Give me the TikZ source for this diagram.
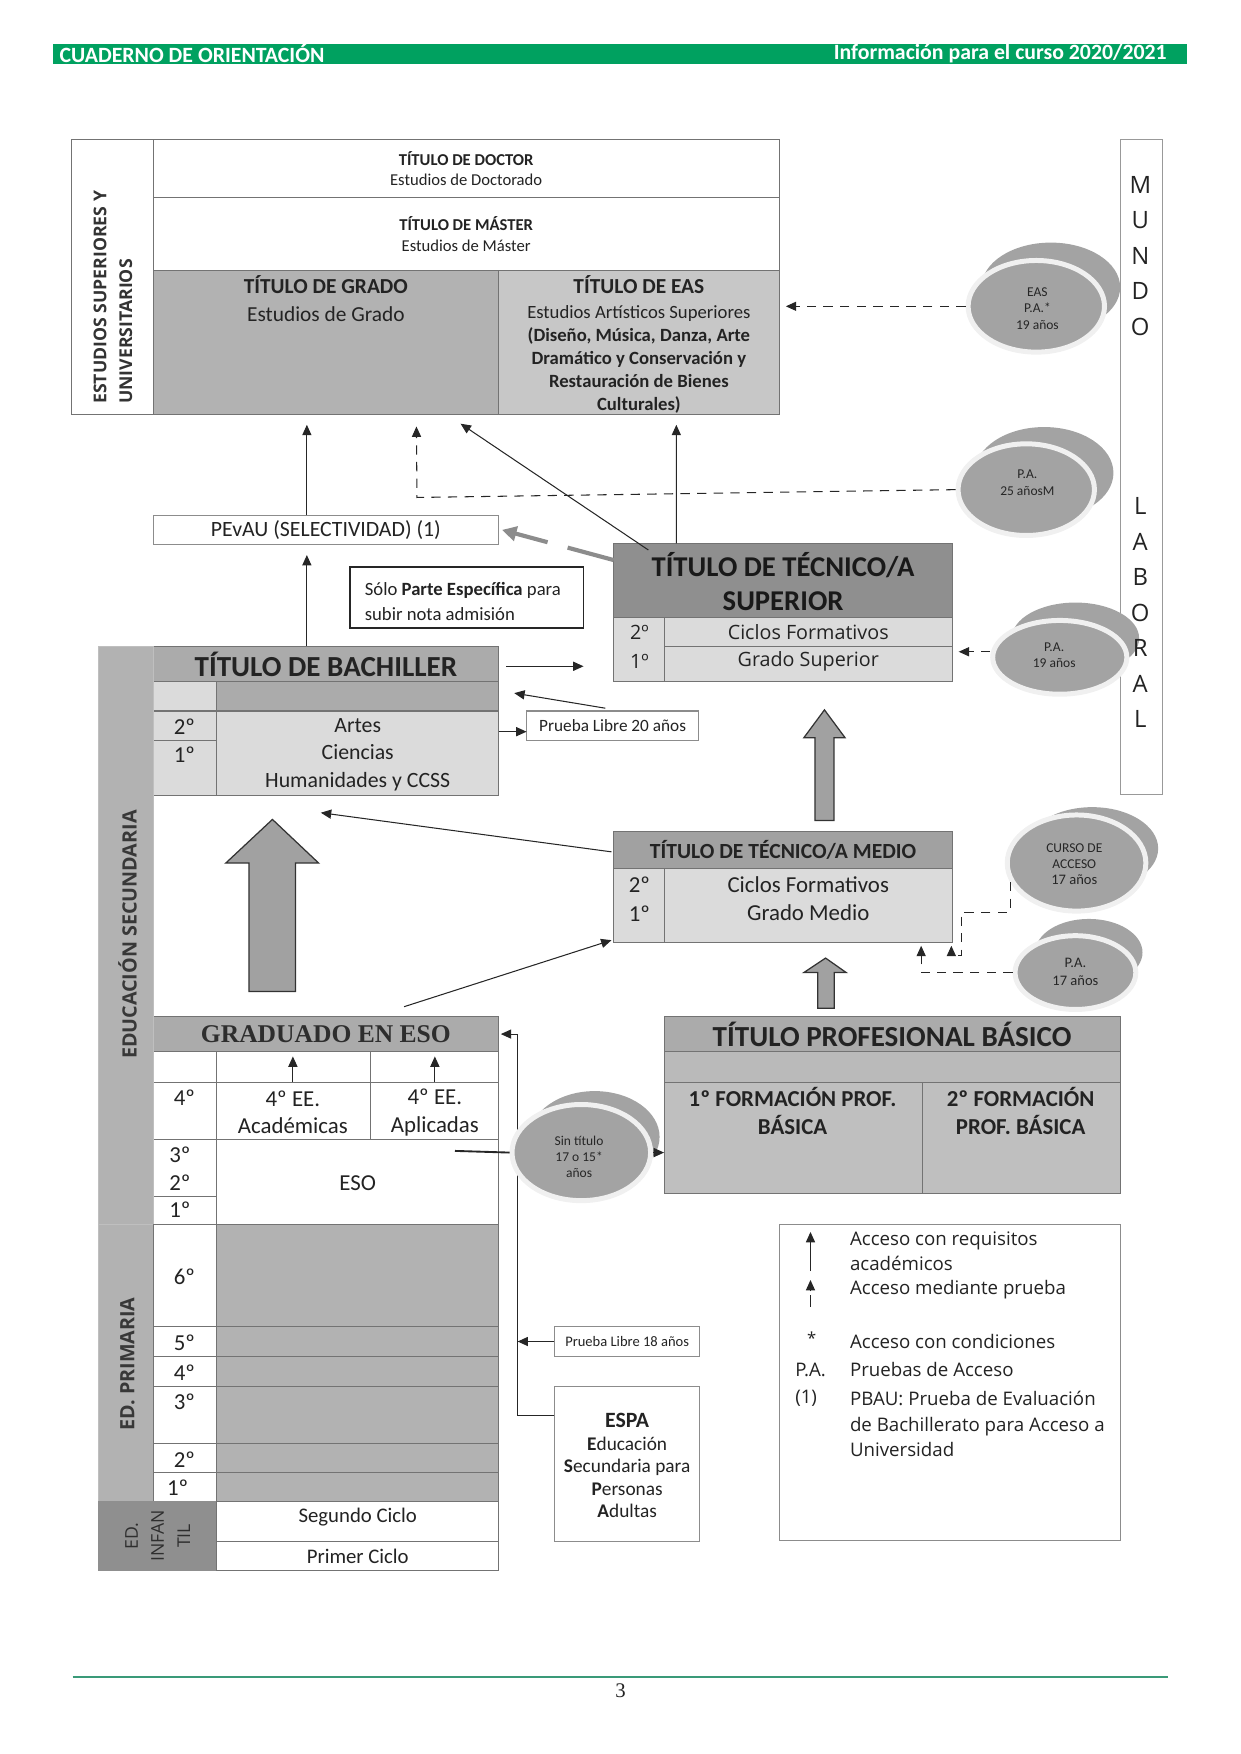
\documentclass[tikz,border=0pt]{standalone}
\usepackage{fontspec}
\setmainfont{Carlito}
\newfontfamily\wide{Open Sans}
\newfontfamily\tnr{Liberation Serif}
\usetikzlibrary{positioning,shapes.geometric,arrows.meta}

\definecolor{verde}{RGB}{0,161,96}
\definecolor{verdel}{RGB}{58,154,120}
\definecolor{tx}{RGB}{35,35,35}

\def\pu{0.018919cm}
\newcommand{\fnt}[2]{\fontsize{#1}{#2}\selectfont}

\tikzset{
  cellbase/.style={draw=black!55, line width=0.5pt, inner sep=0pt, outer sep=0pt},
  txt/.style={inner sep=0pt, text=tx, align=center},
  arr/.style={-{Triangle[length=5pt,width=4.4pt]}, line width=0.5pt, black!85},
  dasharr/.style={arr, dash pattern=on 4.5pt off 3.5pt},
  grayarr/.style={-{Triangle[length=7pt,width=7pt]}, line width=2pt, black!45, dash pattern=on 23pt off 10pt},
  bub/.style={ellipse, fill=black!36, draw=black!6, line width=2.4pt, inner sep=0pt},
  bubsh/.style={ellipse, fill=black!36, inner sep=0pt},
  bubtxt/.style={txt, text=black!85, font=\fnt{6.5}{8}},
  blockarr/.style={fill=black!37, draw=black!80, line width=0.6pt},
}

% celda: nombre, x1, y1, x2, y2, opciones
\newcommand{\cellbox}[6]{\node[cellbase,#6,minimum width={(#4-#2)*\pu},minimum height={(#5-#3)*\pu}] (#1) at ({(#2+#4)/2},{(#3+#5)/2}) {};}

\begin{document}
\begin{tikzpicture}[x=\pu,y=-\pu]
\useasboundingbox (0,0) rectangle (1110,1569);

% cabecera
\cellbox{hdr}{47}{39}{1062}{57}{draw=none,fill=verde}
\node[txt,anchor=west,text=white,font=\bfseries\fnt{10.5}{12}] (hdrL) at (53,48) {CUADERNO DE ORIENTACIÓN};
\node[txt,anchor=east,text=white,font=\bfseries\fnt{10.5}{12}] (hdrR) at (1044,48) {Información para el curso 2020/2021};

% estudios superiores
\cellbox{sup}{64}{125}{137}{371}{fill=white}
\node[txt,rotate=90,align=left,font=\wide\bfseries\fnt{8.5}{12.4},text=black!80] (supT) at (101,266) {ESTUDIOS SUPERIORES Y\\UNIVERSITARIOS};
\cellbox{doc}{137}{125}{697}{177}{fill=white}
\node[txt,font=\fnt{8}{9.8}] (docT) at (doc) {\textbf{TÍTULO DE DOCTOR}\\Estudios de Doctorado};
\cellbox{mas}{137}{177}{697}{242}{fill=white}
\node[txt,font=\fnt{8}{10.2}] (masT) at (mas) {\textbf{TÍTULO DE MÁSTER}\\Estudios de Máster};
\cellbox{grado}{137}{242}{446}{371}{fill=black!30}
\node[txt,anchor=north,font=\fnt{10.3}{13.4}] (gradoT) at (291.5,246) {\textbf{TÍTULO DE GRADO}\\Estudios de Grado};
\cellbox{eas}{446}{242}{697}{371}{fill=black!22}
\node[txt,anchor=north,font=\fnt{9}{11.1}] (easT) at (571.5,246) {{\fnt{10.3}{11.1}\textbf{TÍTULO DE EAS}}\\[1pt]Estudios Artísticos Superiores\\\textbf{(Diseño, Música, Danza, Arte}\\\textbf{Dramático y Conservación y}\\\textbf{Restauración de Bienes}\\\textbf{Culturales)}};

% mundo laboral
\cellbox{mundo}{1002}{125}{1040}{711}{draw=black!40,fill=white}

% burbujas
\node[bubsh,minimum width=124*\pu,minimum height=80*\pu] (easS) at (940,257) {};
\node[bub,minimum width=122*\pu,minimum height=82*\pu] (easB) at (927,274) {};
\node[bubtxt] (easL) at (928,276) {EAS\\P.A.*\\19 años};

\node[bubsh,minimum width=124*\pu,minimum height=82*\pu] (paS) at (934,423) {};
\node[bub,minimum width=122*\pu,minimum height=82*\pu] (paB) at (918,438) {};
\node[bubtxt] (paL) at (919,432) {P.A.\\25 añosM};

\node[bubsh,minimum width=114*\pu,minimum height=64*\pu] (pa19S) at (962,571) {};
\node[bub,minimum width=120*\pu,minimum height=66*\pu] (pa19B) at (948,588) {};
\node[bubtxt] (pa19L) at (943,586) {P.A.\\19 años};

\node[bubsh,minimum width=118*\pu,minimum height=74*\pu] (cursoS) at (977,759) {};
\node[bub,minimum width=124*\pu,minimum height=86*\pu] (cursoB) at (963,772) {};
\node[bubtxt,font=\fnt{6.5}{7.6}] (cursoL) at (961,773) {CURSO DE\\ACCESO\\{\fnt{7}{7.6}17 años}};

\node[bubsh,minimum width=96*\pu,minimum height=60*\pu] (pa17S) at (974,852) {};
\node[bub,minimum width=108*\pu,minimum height=66*\pu] (pa17B) at (962,870) {};
\node[bubtxt,font=\fnt{7}{8.6}] (pa17L) at (962,869) {P.A.\\17 años};

\node[txt,font=\wide\fnt{11.5}{17.1}] (mundoT) at (1020,229) {M\\U\\N\\D\\O};
\node[txt,font=\wide\fnt{11.5}{17.1}] (laboralT) at (1020,548) {L\\A\\B\\O\\R\\A\\L};

% tecnico superior
\cellbox{sup1}{549}{486}{852}{552}{fill=black!44}
\node[txt,font=\bfseries\fnt{13.8}{16.4},text=black!90] (sup1T) at (700.5,520) {TÍTULO DE TÉCNICO/A\\SUPERIOR};
\cellbox{sup2a}{549}{552}{594}{610}{fill=black!14}
\cellbox{sup2b}{594}{552}{852}{578}{fill=black!14}
\cellbox{sup2c}{594}{578}{852}{610}{fill=black!14}
\node[txt,font=\wide\fnt{9.5}{11}] (sup2T) at (572,566) {2º};
\node[txt,font=\wide\fnt{9.5}{11}] (sup1Tb) at (572,592) {1º};
\node[txt,font=\wide\fnt{9.5}{11}] (supCF) at (sup2b) {Ciclos Formativos};
\node[txt,font=\wide\fnt{9.5}{11}] (supGS) at (723,592) {Grado Superior};

% pevau y nota
\cellbox{pevau}{137}{461}{446}{487}{draw=black!45,fill=white}
\node[txt,font=\fnt{10.5}{12}] (pevauT) at (pevau) {PEvAU (SELECTIVIDAD) (1)};
\cellbox{solo}{313}{507}{522}{562}{draw=black!85,line width=0.8pt,fill=white}
\node[txt,anchor=west,align=left,font=\fnt{9}{12.4}] (soloT) at (326,538) {Sólo \textbf{Parte Específica} para\\subir nota admisión};

% bachiller
\cellbox{bach1}{137}{578}{446}{610}{fill=black!33}
\node[txt,font=\bfseries\fnt{14}{16}] (bachT) at (bach1) {TÍTULO DE BACHILLER};
\cellbox{bach2a}{137}{610}{194}{636}{fill=black!14}
\cellbox{bach2b}{194}{610}{446}{636}{fill=black!33}
\cellbox{bach3a}{137}{636}{194}{662}{fill=black!14}
\cellbox{bach3b}{137}{662}{194}{712}{fill=black!14}
\cellbox{bach3c}{194}{636}{446}{712}{fill=black!14}
\node[txt,font=\fnt{11}{13}] (bach2T) at (165,650) {2º};
\node[txt,font=\fnt{11}{13}] (bach1T) at (165,675) {1º};
\node[txt,font=\fnt{10.5}{13.4}] (bachMod) at (320,675) {Artes\\Ciencias\\Humanidades y CCSS};
\cellbox{pl20}{471}{636}{625}{662}{draw=black!45,fill=white}
\node[txt,font=\fnt{8.3}{10}] (pl20T) at (pl20) {Prueba Libre 20 años};

% tecnico medio
\cellbox{med1}{549}{744}{852}{777}{fill=black!37}
\node[txt,font=\bfseries\fnt{10.4}{12}] (medT) at (med1) {TÍTULO DE TÉCNICO/A MEDIO};
\cellbox{med2a}{549}{777}{594}{843}{fill=black!14}
\cellbox{med2b}{594}{777}{852}{843}{fill=black!14}
\node[txt,font=\fnt{11}{13}] (med2T) at (572,791) {2º};
\node[txt,font=\fnt{11}{13}] (med1T) at (572,817) {1º};
\node[txt,font=\fnt{11}{13.7}] (medCF) at (723,804) {Ciclos Formativos\\Grado Medio};

% graduado eso
\cellbox{eso1}{137}{909}{446}{941}{fill=black!33}
\node[txt,font=\tnr\bfseries\fnt{12.3}{14},text=black!82] (esoT) at (eso1) {GRADUADO EN ESO};
\cellbox{eso2a}{137}{941}{194}{968}{fill=white}
\cellbox{eso2b}{194}{941}{331}{968}{fill=white}
\cellbox{eso2c}{331}{941}{446}{968}{fill=white}
\cellbox{eso3a}{137}{968}{194}{1019}{fill=white}
\cellbox{eso3b}{194}{968}{331}{1019}{fill=white}
\cellbox{eso3c}{331}{968}{446}{1019}{fill=white}
\cellbox{eso4a}{137}{1019}{194}{1070}{fill=white}
\cellbox{eso4b}{137}{1070}{194}{1095}{fill=white}
\cellbox{eso4c}{194}{1019}{446}{1095}{fill=white}
\node[txt,font=\fnt{11}{13}] (eso4T) at (165,982) {4º};
\node[txt,font=\fnt{11}{13.2}] (esoAc) at (262,995) {4º EE.\\Académicas};
\node[txt,font=\fnt{11}{13.2}] (esoAp) at (389,995) {4º EE.\\Aplicadas};
\node[txt,font=\fnt{11}{13}] (eso3T) at (161,1033) {3º};
\node[txt,font=\fnt{11}{13}] (eso2T) at (161,1058) {2º};
\node[txt,font=\fnt{11}{13}] (eso1T) at (161,1082) {1º};
\node[txt,font=\fnt{11}{13}] (esoE) at (320,1058) {ESO};
\draw[arr] (eso3b.north -| esoAc) -- ([yshift=-4*\pu]eso2b.north -| esoAc);
\draw[arr] (eso3c.north -| esoAp) -- ([yshift=-4*\pu]eso2c.north -| esoAp);

% barras laterales
\cellbox{sec}{88}{578}{137}{1095}{fill=black!30,draw=black!25}
\node[txt,rotate=90,font=\wide\bfseries\fnt{9.5}{11},text=black!78] (secT) at (114,836) {EDUCACIÓN SECUNDARIA};
\cellbox{pri}{88}{1095}{137}{1343}{fill=black!30,draw=black!25}
\node[txt,rotate=90,font=\wide\bfseries\fnt{9.5}{11},text=black!78] (priT) at (114,1220) {ED. PRIMARIA};

% primaria
\cellbox{p6a}{137}{1095}{194}{1187}{fill=white}
\cellbox{p6b}{194}{1095}{446}{1187}{fill=black!30}
\cellbox{p5a}{137}{1187}{194}{1213}{fill=white}
\cellbox{p5b}{194}{1187}{446}{1213}{fill=black!30}
\cellbox{p4a}{137}{1213}{194}{1240}{fill=white}
\cellbox{p4b}{194}{1213}{446}{1240}{fill=black!30}
\cellbox{p3a}{137}{1240}{194}{1291}{fill=white}
\cellbox{p3b}{194}{1240}{446}{1291}{fill=black!30}
\cellbox{p2a}{137}{1291}{194}{1317}{fill=white}
\cellbox{p2b}{194}{1291}{446}{1317}{fill=black!30}
\cellbox{p1a}{137}{1317}{194}{1343}{fill=white}
\cellbox{p1b}{194}{1317}{446}{1343}{fill=black!30}
\node[txt,font=\fnt{11}{13}] (p6T) at (165,1142) {6º};
\node[txt,font=\fnt{11}{13}] (p5T) at (165,1201) {5º};
\node[txt,font=\fnt{11}{13}] (p4T) at (165,1228) {4º};
\node[txt,font=\fnt{11}{13}] (p3T) at (165,1254) {3º};
\node[txt,font=\fnt{11}{13}] (p2T) at (165,1306) {2º};
\node[txt,font=\fnt{11}{13}] (p1T) at (159,1331) {1º};

% infantil
\cellbox{inf}{88}{1343}{194}{1405}{fill=black!44,draw=black!44}
\node[txt,rotate=90,font=\wide\fnt{8.5}{12.6},text=black!82] (infT) at (141,1374) {ED.\\INFAN\\TIL};
\cellbox{inf2}{194}{1343}{446}{1379}{fill=white}
\cellbox{inf1}{194}{1379}{446}{1405}{fill=white}
\node[txt,font=\fnt{10}{12}] (inf2T) at (320,1357) {Segundo Ciclo};
\node[txt,font=\fnt{10}{12}] (inf1T) at (320,1392) {Primer Ciclo};

% profesional basico
\cellbox{bas1}{594}{909}{1002}{941}{fill=black!33}
\node[txt,font=\bfseries\fnt{14}{16}] (basT) at (bas1) {TÍTULO PROFESIONAL BÁSICO};
\cellbox{bas2}{594}{941}{1002}{968}{fill=black!27}
\cellbox{bas3a}{594}{968}{825}{1068}{fill=black!25}
\cellbox{bas3b}{825}{968}{1002}{1068}{fill=black!25}
\node[txt,font=\bfseries\fnt{11}{13.4}] (bas3aT) at (709,994) {1º FORMACIÓN PROF.\\BÁSICA};
\node[txt,font=\bfseries\fnt{11}{13.4}] (bas3bT) at (913,994) {2º FORMACIÓN\\PROF. BÁSICA};

% espa y prueba libre 18
\cellbox{pl18}{496}{1187}{626}{1213}{draw=black!45,fill=white}
\node[txt,font=\fnt{7}{8}] (pl18T) at (pl18) {Prueba Libre 18 años};
\cellbox{espa}{496}{1240}{626}{1379}{draw=black!45,fill=white}
\node[txt,font=\fnt{9.3}{10.9}] (espaT) at (561,1311) {{\fnt{10.5}{10.9}\textbf{ESPA}}\\\textbf{E}ducación\\\textbf{S}ecundaria para\\\textbf{P}ersonas\\\textbf{A}dultas};

% conexiones eso - espa
\coordinate (vline) at (463,1266);
\draw[arr] ([yshift=43.5*\pu]espa.west) -- (vline) |- ([xshift=2*\pu]eso1.east);
\draw[arr] (pl18.west) -- (pl18.west -| vline);

% sin titulo
\node[bubsh,minimum width=116*\pu,minimum height=82*\pu] (sinS) at (532,1017) {};
\node[bub,minimum width=124*\pu,minimum height=86*\pu] (sinB) at (520,1031) {};
\node[bubtxt,font=\fnt{6.5}{7.8}] (sinL) at (518,1035) {Sin título\\17 o 15*\\años};
\draw[line width=0.9pt,black!85] ([xshift=-39*\pu,yshift=-10.5*\pu]eso4c.north east) -- (sinB.west);
\draw[arr] (sinB.east) -- (sinB.east -| bas3a.west);

% leyenda
\cellbox{ley}{697}{1095}{1002}{1378}{draw=black!45,fill=white}
\coordinate (lg1) at (725,1137);
\coordinate (lg2) at (725,1102);
\coordinate (lg3) at (725,1169);
\coordinate (lg4) at (725,1145);
\draw[arr] (lg1) -- (lg2);
\draw[arr,dash pattern=on 5.5pt off 2pt] (lg3) -- (lg4);
\node[txt,anchor=west,align=left,font=\wide\fnt{9}{12.1}] (leyA) at (760,1119) {Acceso con requisitos\\académicos};
\node[txt,anchor=west,font=\wide\fnt{9}{12.1}] (leyB) at (760,1154) {Acceso mediante prueba};
\node[txt,font=\wide\fnt{8}{12.1}] (leyCs) at (726,1197) {*};
\node[txt,anchor=west,font=\wide\fnt{9}{12.1}] (leyC) at (760,1200) {Acceso con condiciones};
\node[txt,anchor=west,font=\wide\fnt{9}{12.1}] (leyDs) at (711,1225) {P.A.};
\node[txt,anchor=west,font=\wide\fnt{9}{12.1}] (leyD) at (760,1225) {Pruebas de Acceso};
\node[txt,anchor=west,font=\wide\fnt{9}{12.1}] (leyEs) at (711,1251) {(1)};
\node[txt,anchor=west,align=left,font=\wide\fnt{9}{12.3}] (leyE) at (760,1274) {PBAU: Prueba de Evaluación\\de Bachillerato para Acceso a\\Universidad};

% flechas gruesas
\draw[blockarr] (222.7,887) -- (222.7,772) -- (202,772) -- (243.7,733) -- (285,772) -- (264.3,772) -- (264.3,887) -- cycle;
\draw[blockarr] (729,734) -- (729,660) -- (719,660) -- (737.5,635) -- (756,660) -- (746,660) -- (746,734) -- cycle;
\draw[blockarr] (731.5,902) -- (731.5,870) -- (719,870) -- (738.5,857) -- (757,870) -- (746.3,870) -- (746.3,902) -- cycle;

% accesos
\draw[arr] ([xshift=-17*\pu]pevau.north) -- ([xshift=-17*\pu,yshift=-9*\pu]grado.south);
\draw[arr] ([xshift=-17*\pu]bach1.north) -- ([xshift=-17*\pu,yshift=-9.5*\pu]pevau.south);
\draw[arr] ([xshift=31*\pu,yshift=-6*\pu]sup1.north west) -- ([xshift=120.5*\pu,yshift=-8*\pu]grado.south);
\draw[arr] ([xshift=-95.5*\pu]sup1.north) -- ([xshift=33.5*\pu,yshift=-9*\pu]eas.south);
\draw[grayarr] ([yshift=-15*\pu]sup1.north west) -- ([xshift=3*\pu]pevau.east);
\coordinate (bachR) at (522,596);
\draw[arr] ([xshift=7*\pu,yshift=-2*\pu]bach1.east) -- (bachR);
\draw[arr] ([xshift=-6.5*\pu,yshift=2.5*\pu]pl20.north) -- ([xshift=14*\pu,yshift=3*\pu]bach2b.east);
\coordinate (pl20in) at ([yshift=-5.5*\pu]pl20.west);
\draw[arr] (pl20in -| bach3c.east) -- (pl20in);
\draw[arr] ([xshift=-2*\pu,yshift=-1.5*\pu]med1.west) -- ([xshift=-33*\pu,yshift=-15*\pu]bach3c.south);
\draw[arr] ([xshift=70*\pu,yshift=8.5*\pu]eso1.north) -- ([xshift=-2*\pu,yshift=2*\pu]med2a.south west);

% pruebas de acceso
\draw[dasharr,shorten >=3.2pt] (easB.west) -- (easB.west -| eas.east);
\coordinate (pa25c) at (373,445);
\draw[dasharr] (paB.west) -- (pa25c) -- ([xshift=81*\pu,yshift=-10.5*\pu]grado.south);
\coordinate (pa19a) at ([yshift=5*\pu]pa19B.west);
\draw[dasharr,shorten >=3pt] (pa19a) -- (pa19a -| sup2c.east);
\coordinate (cur1) at (860,816);
\coordinate (cur2) at (860,855);
\draw[dasharr] (cursoB.196) |- (cur1) -- (cur2) -| ([xshift=-1*\pu,yshift=-3*\pu]med2b.south east);
\draw[dasharr] (pa17B.west) -| ([xshift=-28*\pu,yshift=-3*\pu]med2b.south east);

% pie
\draw[verdel,line width=1pt] (65,1500) -- (1045,1500);
\node[txt,font=\tnr\fnt{10}{12}] (pag) at (555,1512) {3};

\end{tikzpicture}
\end{document}
